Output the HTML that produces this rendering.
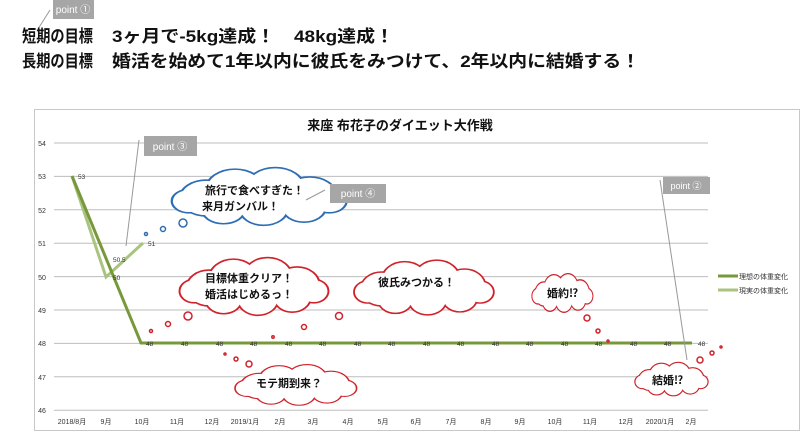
<!DOCTYPE html>
<html><head><meta charset="utf-8"><style>
html,body{margin:0;padding:0;background:#fff;width:800px;height:431px;overflow:hidden}
text{font-family:"Liberation Sans","Noto Sans CJK JP",sans-serif}
</style></head><body>
<svg width="800" height="431" viewBox="0 0 800 431" xmlns="http://www.w3.org/2000/svg">
<defs>
<g id="cloudshape">
<circle cx="-45" cy="0" r="22"/><circle cx="-20" cy="-12" r="24"/><circle cx="15" cy="-14" r="24"/><circle cx="45" cy="-4" r="22"/><circle cx="40" cy="12" r="18"/><circle cx="5" cy="14" r="20"/><circle cx="-30" cy="14" r="18"/><circle cx="-60" cy="4" r="14"/><circle cx="62" cy="4" r="14"/>
</g>
</defs>
<line x1="38" y1="29" x2="50" y2="10" stroke="#999" stroke-width="1"/>
<rect x="53" y="0" width="41" height="19" fill="#a6a6a6"/>
<text x="73" y="13" font-size="10" fill="#fff" text-anchor="middle">point ①</text>
<text x="22" y="42" font-size="17" font-weight="bold" fill="#111" textLength="71" lengthAdjust="spacingAndGlyphs">短期の目標</text>
<text x="112" y="42" font-size="17" font-weight="bold" fill="#111" textLength="282" lengthAdjust="spacingAndGlyphs">3ヶ月で-5kg達成！　48kg達成！</text>
<text x="22" y="67" font-size="17" font-weight="bold" fill="#111" textLength="71" lengthAdjust="spacingAndGlyphs">長期の目標</text>
<text x="112" y="67" font-size="17" font-weight="bold" fill="#111" textLength="528" lengthAdjust="spacingAndGlyphs">婚活を始めて1年以内に彼氏をみつけて、2年以内に結婚する！</text>
<rect x="34.5" y="109.5" width="765" height="321" fill="#fff" stroke="#c8c8c8"/>
<text x="400" y="130" font-size="13" font-weight="bold" fill="#111" text-anchor="middle">来座 布花子のダイエット大作戦</text>
<g stroke="#bdbdbd" stroke-width="1">
<line x1="54" y1="143" x2="708" y2="143"/><line x1="54" y1="176.4" x2="708" y2="176.4"/><line x1="54" y1="209.8" x2="708" y2="209.8"/><line x1="54" y1="243.2" x2="708" y2="243.2"/><line x1="54" y1="276.6" x2="708" y2="276.6"/><line x1="54" y1="310" x2="708" y2="310"/><line x1="54" y1="343.4" x2="708" y2="343.4"/><line x1="54" y1="376.8" x2="708" y2="376.8"/><line x1="54" y1="410.2" x2="708" y2="410.2"/>
</g>
<g font-size="7" fill="#333" text-anchor="middle">
<text x="42" y="146">54</text><text x="42" y="179">53</text><text x="42" y="213">52</text><text x="42" y="246">51</text><text x="42" y="280">50</text><text x="42" y="313">49</text><text x="42" y="346">48</text><text x="42" y="380">47</text><text x="42" y="413">46</text>
</g>
<g font-size="7" fill="#333" text-anchor="middle">
<text x="72" y="424">2018/8月</text><text x="106" y="424">9月</text><text x="142" y="424">10月</text><text x="177" y="424">11月</text><text x="212" y="424">12月</text><text x="245" y="424">2019/1月</text><text x="280" y="424">2月</text><text x="313" y="424">3月</text><text x="348" y="424">4月</text><text x="383" y="424">5月</text><text x="416" y="424">6月</text><text x="451" y="424">7月</text><text x="486" y="424">8月</text><text x="520" y="424">9月</text><text x="555" y="424">10月</text><text x="590" y="424">11月</text><text x="626" y="424">12月</text><text x="660" y="424">2020/1月</text><text x="691" y="424">2月</text>
</g>
<polyline points="72,176 106,277 143,243" fill="none" stroke="#a9c47f" stroke-width="3"/>
<polyline points="72,176 141,343 692,343" fill="none" stroke="#77993b" stroke-width="3"/>
<g font-size="6.5" fill="#333">
<text x="78" y="179">53</text><text x="113" y="262">50.5</text><text x="113" y="280">50</text><text x="148" y="246">51</text>
<text x="146" y="346">48</text><text x="181" y="346">48</text><text x="216" y="346">48</text><text x="250" y="346">48</text><text x="285" y="346">48</text><text x="319" y="346">48</text><text x="354" y="346">48</text><text x="388" y="346">48</text><text x="423" y="346">48</text><text x="457" y="346">48</text><text x="492" y="346">48</text><text x="526" y="346">48</text><text x="561" y="346">48</text><text x="595" y="346">48</text><text x="630" y="346">48</text><text x="664" y="346">48</text><text x="698" y="346">48</text>
</g>
<line x1="718" y1="276" x2="738" y2="276" stroke="#77993b" stroke-width="3"/>
<text x="739" y="279" font-size="7" fill="#333">理想の体重変化</text>
<line x1="718" y1="290" x2="738" y2="290" stroke="#a9c47f" stroke-width="3"/>
<text x="739" y="293" font-size="7" fill="#333">現実の体重変化</text>
<g transform="translate(258,198) scale(1.15,0.78)"><use href="#cloudshape" fill="#2e6db4" stroke="#2e6db4" stroke-width="4"/><use href="#cloudshape" fill="#fff"/></g>
<g transform="translate(253,288) scale(0.98,0.78)"><use href="#cloudshape" fill="#d0222a" stroke="#d0222a" stroke-width="4"/><use href="#cloudshape" fill="#fff"/></g>
<g transform="translate(423,289) scale(0.92,0.74)"><use href="#cloudshape" fill="#d0222a" stroke="#d0222a" stroke-width="4"/><use href="#cloudshape" fill="#fff"/></g>
<g transform="translate(295,386) scale(0.8,0.55)"><use href="#cloudshape" fill="#d0222a" stroke="#d0222a" stroke-width="4"/><use href="#cloudshape" fill="#fff"/></g>
<g transform="translate(562,294) scale(0.4,0.52)"><use href="#cloudshape" fill="#d0222a" stroke="#d0222a" stroke-width="5"/><use href="#cloudshape" fill="#fff"/></g>
<g transform="translate(671,380) scale(0.48,0.45)"><use href="#cloudshape" fill="#d0222a" stroke="#d0222a" stroke-width="5"/><use href="#cloudshape" fill="#fff"/></g>
<g font-size="11" font-weight="bold" fill="#111">
<text x="205" y="194">旅行で食べすぎた！</text><text x="202" y="210">来月ガンバル！</text>
<text x="205" y="282">目標体重クリア！</text><text x="205" y="298">婚活はじめるっ！</text>
<text x="378" y="286">彼氏みつかる！</text>
<text x="256" y="387">モテ期到来？</text>
<text x="547" y="297">婚約⁉</text>
<text x="652" y="384">結婚⁉</text>
</g>
<g fill="#fff" stroke="#2e6db4" stroke-width="1.5"><circle cx="146" cy="234" r="1.5"/><circle cx="163" cy="229" r="2.5"/><circle cx="183" cy="223" r="4"/></g>
<g fill="#fff" stroke="#d0222a" stroke-width="1.5">
<circle cx="151" cy="331" r="1.5"/><circle cx="168" cy="324" r="2.5"/><circle cx="188" cy="316" r="4"/>
<circle cx="225" cy="354" r="1"/><circle cx="236" cy="359" r="2"/><circle cx="249" cy="364" r="3"/>
<circle cx="273" cy="337" r="1.2"/><circle cx="304" cy="327" r="2.5"/><circle cx="339" cy="316" r="3.5"/>
<circle cx="587" cy="318" r="3"/><circle cx="598" cy="331" r="2"/><circle cx="608" cy="341" r="1"/>
<circle cx="700" cy="360" r="3"/><circle cx="712" cy="353" r="2"/><circle cx="721" cy="347" r="1"/>
</g>
<line x1="126" y1="246" x2="139" y2="140" stroke="#999"/>
<rect x="144" y="136" width="53" height="20" fill="#a6a6a6"/>
<text x="170" y="150" font-size="10" fill="#fff" text-anchor="middle">point ③</text>
<line x1="306" y1="200" x2="325" y2="190" stroke="#999"/>
<rect x="330" y="184" width="56" height="19" fill="#a6a6a6"/>
<text x="358" y="197" font-size="10" fill="#fff" text-anchor="middle">point ④</text>
<line x1="660" y1="180" x2="687" y2="360" stroke="#999"/>
<rect x="663" y="177" width="47" height="17" fill="#a6a6a6"/>
<text x="686" y="189" font-size="9" fill="#fff" text-anchor="middle">point ②</text>
</svg>
</body></html>
